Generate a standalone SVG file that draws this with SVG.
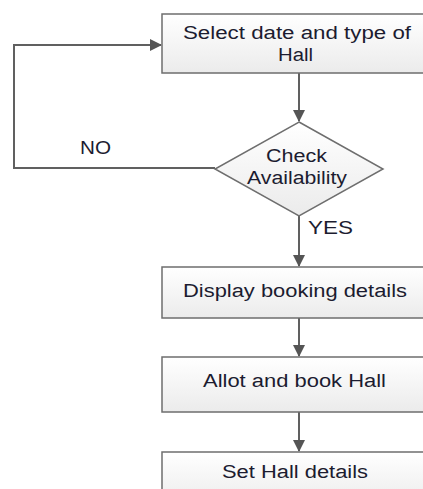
<svg xmlns="http://www.w3.org/2000/svg" width="423" height="489" viewBox="0 0 423 489">
<defs>
<linearGradient id="g" x1="0" y1="0" x2="0" y2="1"><stop offset="0" stop-color="#ffffff"/><stop offset="1" stop-color="#ebebeb"/></linearGradient>
<marker id="ah" markerWidth="12" markerHeight="12" refX="11" refY="6" orient="auto" markerUnits="userSpaceOnUse"><path d="M0,0 L12,6 L0,12 Z" fill="#555"/></marker>
</defs>
<style>
.box{fill:url(#g);stroke:#6e6e6e;stroke-width:1.5}
.t{font-family:"Liberation Sans",Arial,sans-serif;font-size:18px;fill:#1c1c30}
.c{fill:none;stroke:#606060;stroke-width:2}
</style>
<rect width="423" height="489" fill="#fff"/>
<g id="connectors">
<path class="c" d="M299,73 V121" marker-end="url(#ah)"/>
<path class="c" d="M215,168 H14 V45 H161" marker-end="url(#ah)"/>
<path class="c" d="M299,216 V266" marker-end="url(#ah)"/>
<path class="c" d="M299,318 V356" marker-end="url(#ah)"/>
<path class="c" d="M299,412 V451" marker-end="url(#ah)"/>
<text class="t" x="80" y="154" textLength="31" lengthAdjust="spacingAndGlyphs">NO</text>
<text class="t" x="308" y="234" textLength="45" lengthAdjust="spacingAndGlyphs">YES</text>
</g>
<g id="select">
<rect class="box" x="162" y="14" width="275" height="59"/>
<text class="t" x="183" y="39" textLength="228" lengthAdjust="spacingAndGlyphs">Select date and type of</text>
<text class="t" x="278" y="61" textLength="35" lengthAdjust="spacingAndGlyphs">Hall</text>
</g>
<g id="check">
<path class="box" d="M299,122 L383,169 L299,216 L215,169 Z"/>
<text class="t" x="266" y="162" textLength="61" lengthAdjust="spacingAndGlyphs">Check</text>
<text class="t" x="247" y="184" textLength="100" lengthAdjust="spacingAndGlyphs">Availability</text>
</g>
<g id="display">
<rect class="box" x="162" y="267" width="275" height="51"/>
<text class="t" x="183" y="297" textLength="224" lengthAdjust="spacingAndGlyphs">Display booking details</text>
</g>
<g id="allot">
<rect class="box" x="162" y="357" width="275" height="55"/>
<text class="t" x="203" y="387" textLength="183" lengthAdjust="spacingAndGlyphs">Allot and book Hall</text>
</g>
<g id="set">
<rect class="box" x="162" y="452" width="275" height="55"/>
<text class="t" x="222" y="478" textLength="146" lengthAdjust="spacingAndGlyphs">Set Hall details</text>
</g>
</svg>
